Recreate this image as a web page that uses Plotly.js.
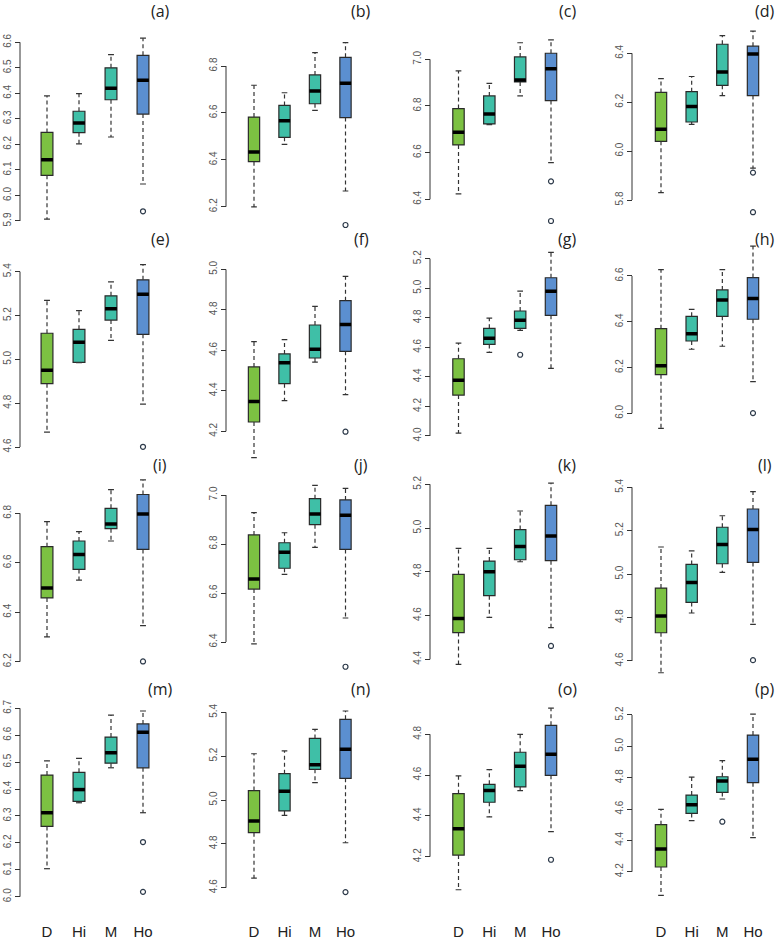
<!DOCTYPE html>
<html><head><meta charset="utf-8">
<script src="https://cdn.plot.ly/plotly-3.0.1.min.js"></script>
<style>html,body{margin:0;padding:0;background:#fff}</style>
</head><body><div id="chart" style="width:778px;height:939px"></div>
<script>
// ---------------- DATA ----------------
const groups = ['D', 'Hi', 'M', 'Ho'];
const panelLabels = ['(a)','(b)','(c)','(d)','(e)','(f)','(g)','(h)','(i)','(j)','(k)','(l)','(m)','(n)','(o)','(p)'];
const lowWhisker = [
  [5.907,6.202,6.229,6.045],[6.199,6.466,6.611,6.267],[6.423,6.720,6.843,6.557],[5.830,6.109,6.227,5.930],
  [4.668,4.985,5.087,4.796],[4.070,4.351,4.542,4.381],[4.020,4.566,4.715,4.458],[5.934,6.280,6.293,6.138],
  [6.300,6.530,6.688,6.346],[6.392,6.676,6.786,6.498],[4.377,4.592,4.846,4.545],[4.546,4.821,5.008,4.769],
  [6.104,6.349,6.479,6.312],[4.644,4.930,5.079,4.805],[4.038,4.395,4.524,4.323],[4.049,4.526,4.664,4.417]
];
const q1 = [
  [6.079,6.246,6.375,6.319],[6.392,6.496,6.639,6.580],[6.633,6.723,6.903,6.823],[6.040,6.119,6.269,6.227],
  [4.889,4.986,5.179,5.114],[4.246,4.435,4.562,4.595],[4.277,4.620,4.729,4.817],[6.169,6.316,6.424,6.411],
  [6.458,6.573,6.738,6.654],[6.616,6.701,6.879,6.778],[4.522,4.691,4.855,4.851],[4.730,4.870,5.048,5.054],
  [6.261,6.354,6.496,6.479],[4.851,4.950,5.140,5.099],[4.208,4.467,4.542,4.599],[4.230,4.572,4.706,4.768]
];
const median = [
  [6.140,6.284,6.420,6.451],[6.433,6.567,6.693,6.726],[6.687,6.766,6.911,6.960],[6.089,6.182,6.324,6.397],
  [4.950,5.078,5.231,5.297],[4.347,4.539,4.605,4.727],[4.377,4.661,4.783,4.979],[6.208,6.348,6.495,6.502],
  [6.498,6.633,6.757,6.797],[6.657,6.766,6.922,6.917],[4.587,4.800,4.916,4.964],[4.807,4.961,5.136,5.206],
  [6.312,6.398,6.535,6.611],[4.904,5.040,5.161,5.231],[4.337,4.525,4.643,4.702],[4.345,4.628,4.779,4.917]
];
const q3 = [
  [6.247,6.330,6.500,6.549],[6.582,6.632,6.762,6.837],[6.789,6.843,7.010,7.026],[6.240,6.243,6.437,6.429],
  [5.119,5.137,5.290,5.363],[4.518,4.582,4.725,4.845],[4.523,4.729,4.846,5.071],[6.370,6.424,6.539,6.593],
  [6.665,6.688,6.820,6.876],[6.837,6.805,6.985,6.980],[4.788,4.849,4.993,5.104],[4.936,5.045,5.216,5.300],
  [6.452,6.462,6.593,6.642],[5.043,5.120,5.281,5.368],[4.509,4.555,4.712,4.844],[4.500,4.689,4.806,5.072]
];
const highWhisker = [
  [6.390,6.399,6.552,6.616],[6.718,6.686,6.857,6.900],[6.950,6.897,7.071,7.083],[6.296,6.305,6.472,6.491],
  [5.269,5.222,5.354,5.432],[4.643,4.653,4.817,4.965],[4.629,4.798,4.981,5.243],[6.628,6.454,6.628,6.731],
  [6.766,6.726,6.896,6.935],[6.928,6.846,7.039,7.027],[4.907,4.907,5.078,5.205],[5.125,5.107,5.269,5.380],
  [6.505,6.514,6.675,6.690],[5.211,5.224,5.322,5.406],[4.596,4.627,4.800,4.928],[4.598,4.804,4.909,5.206]
];
const outliers = [
  [[],[],[],[5.938]],[[],[],[],[6.122]],[[],[],[],[6.477,6.307]],[[],[],[],[5.912,5.750]],
  [[],[],[],[4.601]],[[],[],[],[4.198]],[[],[],[4.550],[]],[[],[],[],[6.001]],
  [[],[],[],[6.201]],[[],[],[],[6.299]],[[],[],[],[4.461]],[[],[],[],[4.604]],
  [[],[],[],[6.203,6.018]],[[],[],[],[4.580]],[[],[],[],[4.185]],[[],[],[4.519],[]]
];
const tickValues = [
  [5.9,6.0,6.1,6.2,6.3,6.4,6.5,6.6],[6.2,6.4,6.6,6.8],[6.4,6.6,6.8,7.0],[5.8,6.0,6.2,6.4],
  [4.6,4.8,5.0,5.2,5.4],[4.2,4.4,4.6,4.8,5.0],[4.0,4.2,4.4,4.6,4.8,5.0,5.2],[6.0,6.2,6.4,6.6],
  [6.2,6.4,6.6,6.8],[6.4,6.6,6.8,7.0],[4.4,4.6,4.8,5.0,5.2],[4.6,4.8,5.0,5.2,5.4],
  [6.0,6.1,6.2,6.3,6.4,6.5,6.6,6.7],[4.6,4.8,5.0,5.2,5.4],[4.2,4.4,4.6,4.8],[4.2,4.4,4.6,4.8,5.0,5.2]
];
const boxColors = ['#7cc142', '#3fbfa7', '#3fbfa7', '#5b8fd0'];

// ---------------- LAYOUT GEOMETRY (pixels) ----------------
const W = 778, H = 939;
const colAxisPx = [20, 226, 430, 632];
const colFirstBox = [47, 254, 458.5, 661];
const colLastBox = [143, 345.5, 551, 753];
// pixel y of highest tick and of lowest tick, per panel
const tickPx = [
  [42.3,221],[66,206.7],[59.3,199.3],[53.3,200],
  [271.7,447],[269.3,431.3],[258.7,436],[276,413.3],
  [513.3,661.7],[495,642],[484.3,659.3],[487.3,661],
  [708.3,896.7],[712.3,887.7],[734.3,856.7],[715,871.7]
];
const titleRowPx = [11, 239, 465, 689];
const titleColPx = [160, 361, 567, 765];

const traces = [], shapes = [], annotations = [];
const layout = {
  width: W, height: H, margin: {l:0, r:0, t:0, b:0}, showlegend: false,
  paper_bgcolor: '#ffffff', plot_bgcolor: 'rgba(0,0,0,0)',
  font: {family: 'Liberation Sans, Arial, sans-serif', color: '#333'}
};
const boxW = 0.37, capHalf = boxW * 0.25, edge = '#2a2a2a';

for (let k = 0; k < 16; k++) {
  const col = k % 4, row = Math.floor(k / 4);
  const id = k === 0 ? '' : String(k + 1);
  const xa = 'x' + id, ya = 'y' + id;
  const sp = (colLastBox[col] - colFirstBox[col]) / 3;
  const xl = colFirstBox[col] - 0.5 * sp, xr = colLastBox[col] + 0.5 * sp;

  const ticks = tickValues[k];
  const tLo = ticks[0], tHi = ticks[ticks.length - 1];
  let vals = lowWhisker[k].concat(highWhisker[k]);
  outliers[k].forEach(o => { vals = vals.concat(o); });
  const lo = Math.min(...vals), hi = Math.max(...vals), r = hi - lo;
  const ylo = lo - 0.04 * r, yhi = hi + 0.04 * r;
  const [pHi, pLo] = tickPx[k];
  const ppu = (pLo - pHi) / (tHi - tLo);
  const topPx = pHi - (yhi - tHi) * ppu;
  const botPx = pLo + (tLo - ylo) * ppu;
  const d0 = Math.max(0, 1 - botPx / H), d1 = Math.min(1, 1 - topPx / H);

  const xaxis = {domain: [xl / W, xr / W], range: [0.5, 4.5], showgrid: false, zeroline: false, fixedrange: true};
  if (row === 3) {
    Object.assign(xaxis, {anchor: 'free', position: 0.019, showline: false, ticks: '',
      tickvals: [1,2,3,4], ticktext: groups, tickfont: {size: 15, color: '#222', family: 'Liberation Sans, Arial, sans-serif'}});
  } else {
    xaxis.visible = false;
  }
  layout['xaxis' + id] = xaxis;
  layout['yaxis' + id] = {
    domain: [d0, d1], range: [ylo, yhi], anchor: 'free', position: colAxisPx[col] / W,
    showline: false, showgrid: false, zeroline: false, ticks: 'outside', ticklen: 5, tickwidth: 1,
    tickcolor: '#333', tickvals: ticks, tickformat: '.1f', tickangle: -90,
    tickfont: {size: 10, color: '#555', family: 'Liberation Sans, Arial, sans-serif'}, fixedrange: true
  };
  shapes.push({type: 'line', xref: 'paper', yref: ya, x0: colAxisPx[col] / W, x1: colAxisPx[col] / W,
    y0: tLo, y1: tHi, line: {color: '#333', width: 1}});

  // whiskers (dashed) and caps
  const wx = [], wy = [], cx = [], cy = [], mx = [], my = [];
  for (let g = 0; g < 4; g++) {
    const c = g + 1;
    wx.push(c, c, null, c, c, null);
    wy.push(q3[k][g], highWhisker[k][g], null, q1[k][g], lowWhisker[k][g], null);
    cx.push(c - capHalf, c + capHalf, null, c - capHalf, c + capHalf, null);
    cy.push(highWhisker[k][g], highWhisker[k][g], null, lowWhisker[k][g], lowWhisker[k][g], null);
    mx.push(c - boxW / 2, c + boxW / 2, null);
    my.push(median[k][g], median[k][g], null);
  }
  traces.push({type: 'scatter', mode: 'lines', x: wx, y: wy, xaxis: xa, yaxis: ya, hoverinfo: 'skip',
    line: {color: '#333', width: 1.2, dash: '4px,3px'}});
  traces.push({type: 'scatter', mode: 'lines', x: cx, y: cy, xaxis: xa, yaxis: ya, hoverinfo: 'skip',
    line: {color: '#333', width: 1.2}});
  for (let g = 0; g < 4; g++) {
    traces.push({type: 'box', x: [g + 1], q1: [q1[k][g]], median: [median[k][g]], q3: [q3[k][g]],
      lowerfence: [q1[k][g]], upperfence: [q3[k][g]], width: boxW, whiskerwidth: 0,
      fillcolor: boxColors[g], line: {color: edge, width: 1.2}, boxpoints: false,
      xaxis: xa, yaxis: ya, hoverinfo: 'skip'});
  }
  traces.push({type: 'scatter', mode: 'lines', x: mx, y: my, xaxis: xa, yaxis: ya, hoverinfo: 'skip',
    line: {color: '#000', width: 3.5}});
  const ox = [], oy = [];
  outliers[k].forEach((arr, g) => arr.forEach(v => { ox.push(g + 1); oy.push(v); }));
  if (ox.length) {
    traces.push({type: 'scatter', mode: 'markers', x: ox, y: oy, xaxis: xa, yaxis: ya, hoverinfo: 'skip',
      marker: {symbol: 'circle-open', size: 5, color: '#2d3a4a', line: {width: 1.2, color: '#2d3a4a'}}});
  }
  annotations.push({text: panelLabels[k], xref: 'paper', yref: 'paper', x: titleColPx[col] / W,
    y: 1 - titleRowPx[row] / H, xanchor: 'center', yanchor: 'middle', showarrow: false,
    font: {size: 16, color: '#222', family: 'Open Sans, Noto Sans, sans-serif'}});
}
layout.shapes = shapes;
layout.annotations = annotations;
Plotly.newPlot('chart', traces, layout, {staticPlot: true, displayModeBar: false});
</script></body></html>
